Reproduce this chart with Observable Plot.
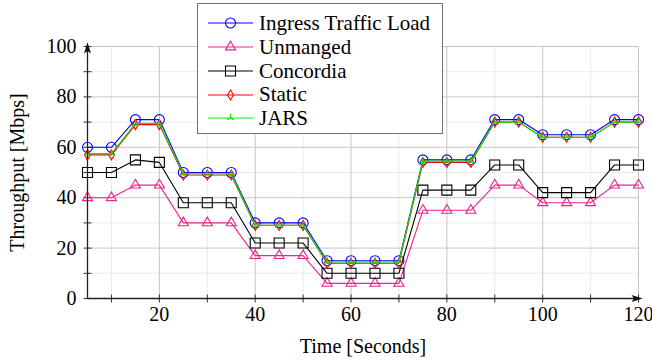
<!DOCTYPE html>
<html><head><meta charset="utf-8">
<script src="https://cdn.jsdelivr.net/npm/d3@7"></script>
<script src="https://cdn.jsdelivr.net/npm/@observablehq/plot@0.6"></script>
<style>
body{margin:0;background:#fff;}
#wrap{position:relative;width:652px;height:360px;}
#wrap svg text{font-family:"Liberation Serif","Times New Roman",serif;}
#legend{position:absolute;left:197px;top:3px;width:244px;height:129px;border:1px solid #707070;background:#fff;font-family:"Liberation Serif","Times New Roman",serif;font-size:21px;color:#000;}
.row{position:absolute;left:9px;height:24px;display:flex;align-items:center;white-space:nowrap;}
.row svg{display:block;margin-right:0;}
</style></head><body><div id="wrap"></div>
<script>
// ---- data ----
const times = [5,10,15,20,25,30,35,40,45,50,55,60,65,70,75,80,85,90,95,100,105,110,115,120];
const ingress   = [60,60,71,71,50,50,50,30,30,30,15,15,15,15,55,55,55,71,71,65,65,65,71,71];
const unmanaged = [40,40,45,45,30,30,30,17,17,17,6,6,6,6,35,35,35,45,45,38,38,38,45,45];
const concordia = [50,50,55,54,38,38,38,22,22,22,10,10,10,10,43,43,43,53,53,42,42,42,53,53];
const staticLd  = [57,57,69,69,49,49,49,29,29,29,14,14,14,14,54,54,54,70,70,64,64,64,70,70];
const jars      = [57.5,57.5,69.5,69.5,49.5,49.5,49.5,29,29,29,14.5,14.5,14.5,14.5,54.5,54.5,54.5,70,70,64,64,64,70,70];
const seriesNames  = ["Ingress Traffic Load","Unmanged","Concordia","Static","JARS"];
const seriesValues = [ingress, unmanaged, concordia, staticLd, jars];
const xMajorTicks = [20,40,60,80,100,120];
const xMinorTicks = [10,30,50,70,90,110];
const yMajorTicks = [0,20,40,60,80,100];
const yMinorTicks = [10,30,50,70,90];
const xDomain = [5,120];
const yDomain = [0,100];
const xLabel = "Time [Seconds]";
const yLabel = "Throughput [Mbps]";

// ---- styles ----
const seriesColors = ["#0000ff","#e8258f","#000000","#ff0000","#00ee00"];
const R = v => Math.sqrt(v/Math.PI);
const symCircle   = {draw(c,s){const r=R(s); c.moveTo(r,0); c.arc(0,0,r,0,2*Math.PI);}};
const symTriangle = {draw(c,s){const r=R(s); c.moveTo(0,-r); c.lineTo(r*0.866,r*0.5); c.lineTo(-r*0.866,r*0.5); c.closePath();}};
const symSquare   = {draw(c,s){const r=R(s); c.rect(-r,-r,2*r,2*r);}};
const symDiamond  = {draw(c,s){const r=R(s); c.moveTo(0,-r); c.lineTo(r*0.6,0); c.lineTo(0,r); c.lineTo(-r*0.6,0); c.closePath();}};
const symTri      = {draw(c,s){const r=R(s); c.moveTo(0,0); c.lineTo(0,-r); c.moveTo(0,0); c.lineTo(r*0.866,r*0.5); c.moveTo(0,0); c.lineTo(-r*0.866,r*0.5);}};
const symVTick    = {draw(c,s){const r=R(s); c.moveTo(0,-r); c.lineTo(0,r);}};
const symHTick    = {draw(c,s){const r=R(s); c.moveTo(-r,0); c.lineTo(r,0);}};
const symArrow    = {draw(c,s){const r=R(s); c.moveTo(r*0.6,0); c.lineTo(-r,-r*0.5); c.lineTo(-r*0.65,0); c.lineTo(-r,r*0.5); c.closePath();}};
const seriesSymbols = [symCircle, symTriangle, symSquare, symDiamond, symTri];
const seriesR = [5, 5.8, 5, 5, 4.2];

const rows = times.flatMap((t,i)=>seriesNames.map((s,k)=>({t, v: seriesValues[k][i], k})));

const seriesMarks = seriesNames.flatMap((s,k)=>{
  const d = rows.filter(r=>r.k===k);
  return [
    Plot.line(d,{x:"t",y:"v",stroke:seriesColors[k],strokeWidth:1.1}),
    Plot.dot(d,{x:"t",y:"v",stroke:seriesColors[k],fill:"none",strokeWidth:1.1,symbol:seriesSymbols[k],r:seriesR[k]})
  ];
});

const chart = Plot.plot({
  width:652, height:360,
  marginLeft:87, marginRight:14, marginTop:46, marginBottom:62,
  style:{fontSize:"20px", background:"#fff", color:"#000"},
  x:{domain:xDomain},
  y:{domain:yDomain},
  marks:[
    Plot.gridX(xMinorTicks,{stroke:"#ebebeb",strokeOpacity:1}),
    Plot.gridY(yMinorTicks,{stroke:"#ebebeb",strokeOpacity:1}),
    Plot.gridX(xMajorTicks,{stroke:"#c6c6c6",strokeOpacity:1}),
    Plot.gridY(yMajorTicks.filter(v=>v>yDomain[0]),{stroke:"#c6c6c6",strokeOpacity:1}),
    Plot.axisX(xMajorTicks,{tickSize:0,tickPadding:8,fontSize:20,label:xLabel,labelAnchor:"center",labelArrow:"none",labelOffset:54}),
    Plot.axisY(yMajorTicks,{tickSize:0,tickPadding:11,fontSize:20,label:yLabel,labelAnchor:"center",labelArrow:"none",labelOffset:78}),
    Plot.dot(xMajorTicks.concat(xMinorTicks),{x:d=>d,y:()=>yDomain[0],symbol:symVTick,r:4,stroke:"#333",strokeWidth:1}),
    Plot.dot(yMajorTicks.concat(yMinorTicks),{y:d=>d,x:()=>xDomain[0],symbol:symHTick,r:4,stroke:"#333",strokeWidth:1}),
    ...seriesMarks,
    Plot.ruleY([yDomain[0]],{stroke:"#222",strokeWidth:1.3}),
    Plot.ruleX([xDomain[0]],{stroke:"#222",strokeWidth:1.3}),
    Plot.dot([xDomain[1]],{x:d=>d,y:()=>yDomain[0],symbol:symArrow,r:7,fill:"#111",stroke:"none"}),
    Plot.dot([yDomain[1]],{y:d=>d,x:()=>xDomain[0],symbol:symArrow,r:7,rotate:-90,fill:"#111",stroke:"none"})
  ]
});
const wrap = document.getElementById("wrap");
wrap.appendChild(chart);

// ---- legend ----
const legend = document.createElement("div");
legend.id = "legend";
const rowCenters = [19,43,67,90.5,114];
seriesNames.forEach((name,k)=>{
  const row = document.createElement("div");
  row.className = "row";
  row.style.top = (rowCenters[k]-12)+"px";
  const path = d3.symbol(seriesSymbols[k], Math.PI*seriesR[k]*seriesR[k])();
  row.innerHTML = `<svg width="52" height="24"><line x1="1" x2="46" y1="12" y2="12" stroke="${seriesColors[k]}" stroke-width="1.1"/><path d="${path}" transform="translate(23.5,12)" stroke="${seriesColors[k]}" fill="none" stroke-width="1.1"/></svg><span>${name}</span>`;
  legend.appendChild(row);
});
wrap.appendChild(legend);
</script>
</body></html>
